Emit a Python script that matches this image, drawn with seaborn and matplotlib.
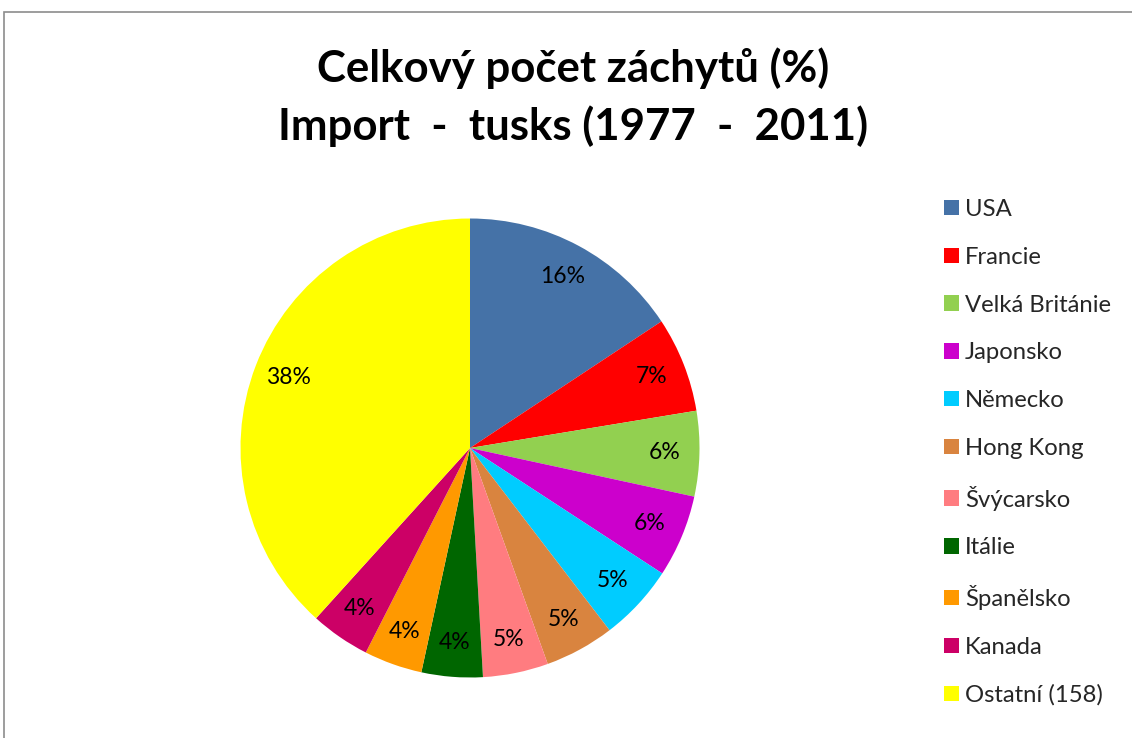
import matplotlib
matplotlib.use("Agg")
import matplotlib.pyplot as plt
import matplotlib.patches as mpatches
import seaborn as sns

categories = ["USA", "Francie", "Velká Británie", "Japonsko", "Německo", "Hong Kong",
              "Švýcarsko", "Itálie", "Španělsko", "Kanada", "Ostatní (158)"]
values = [15.7, 6.7, 6.0, 5.8, 5.4, 4.9, 4.6, 4.3, 4.1, 4.2, 38.3]
colors = ["#4572A7", "#FF0000", "#92D050", "#CC00CC", "#00CCFF", "#D9843F",
          "#FF7C80", "#006600", "#FF9900", "#CC0066", "#FFFF00"]
title_lines = ["Celkový počet záchytů (%)", "Import  -  tusks (1977  -  2011)"]

sns.set_theme(style="white")
plt.rcParams["font.family"] = ["Lato", "DejaVu Sans"]

W, H = 1132, 738
fig = plt.figure(figsize=(W / 100, H / 100), dpi=100)
fig.patch.set_facecolor("white")

# outer frame
fig.add_artist(mpatches.Rectangle((4 / W, -0.05), 1.2, 1 - 12 / H + 0.05,
                                  transform=fig.transFigure, fill=False,
                                  edgecolor="#8C8C8C", linewidth=1.2))

cx, cy, r = 470, 448, 229.5
ax = fig.add_axes([(cx - r) / W, (H - cy - r) / H, 2 * r / W, 2 * r / H])
wedges, texts, autotexts = ax.pie(values, colors=colors, startangle=90, counterclock=False,
                                  autopct="%.0f%%", pctdistance=0.85, radius=1.0,
                                  wedgeprops=dict(linewidth=0),
                                  textprops=dict(fontsize=16.5, color="black"))
ax.set_xlim(-1, 1)
ax.set_ylim(-1, 1)
ax.set_aspect("auto")

fig.text(573 / W, 1 - 68 / H, title_lines[0], ha="center", va="center",
         fontsize=31.5, fontweight="bold", color="black")
fig.text(573 / W, 1 - 126 / H, title_lines[1], ha="center", va="center",
         fontsize=31.5, fontweight="bold", color="black")

handles = [mpatches.Patch(facecolor=c, edgecolor="none") for c in colors]
fig.legend(handles, categories, loc="upper left", bbox_to_anchor=(944 / W, 1 - 199 / H),
           frameon=False, fontsize=17.2, handlelength=0.62, handleheight=0.62,
           handletextpad=0.25, labelspacing=1.12, borderaxespad=0, borderpad=0)

fig.savefig("out.png", dpi=100)
